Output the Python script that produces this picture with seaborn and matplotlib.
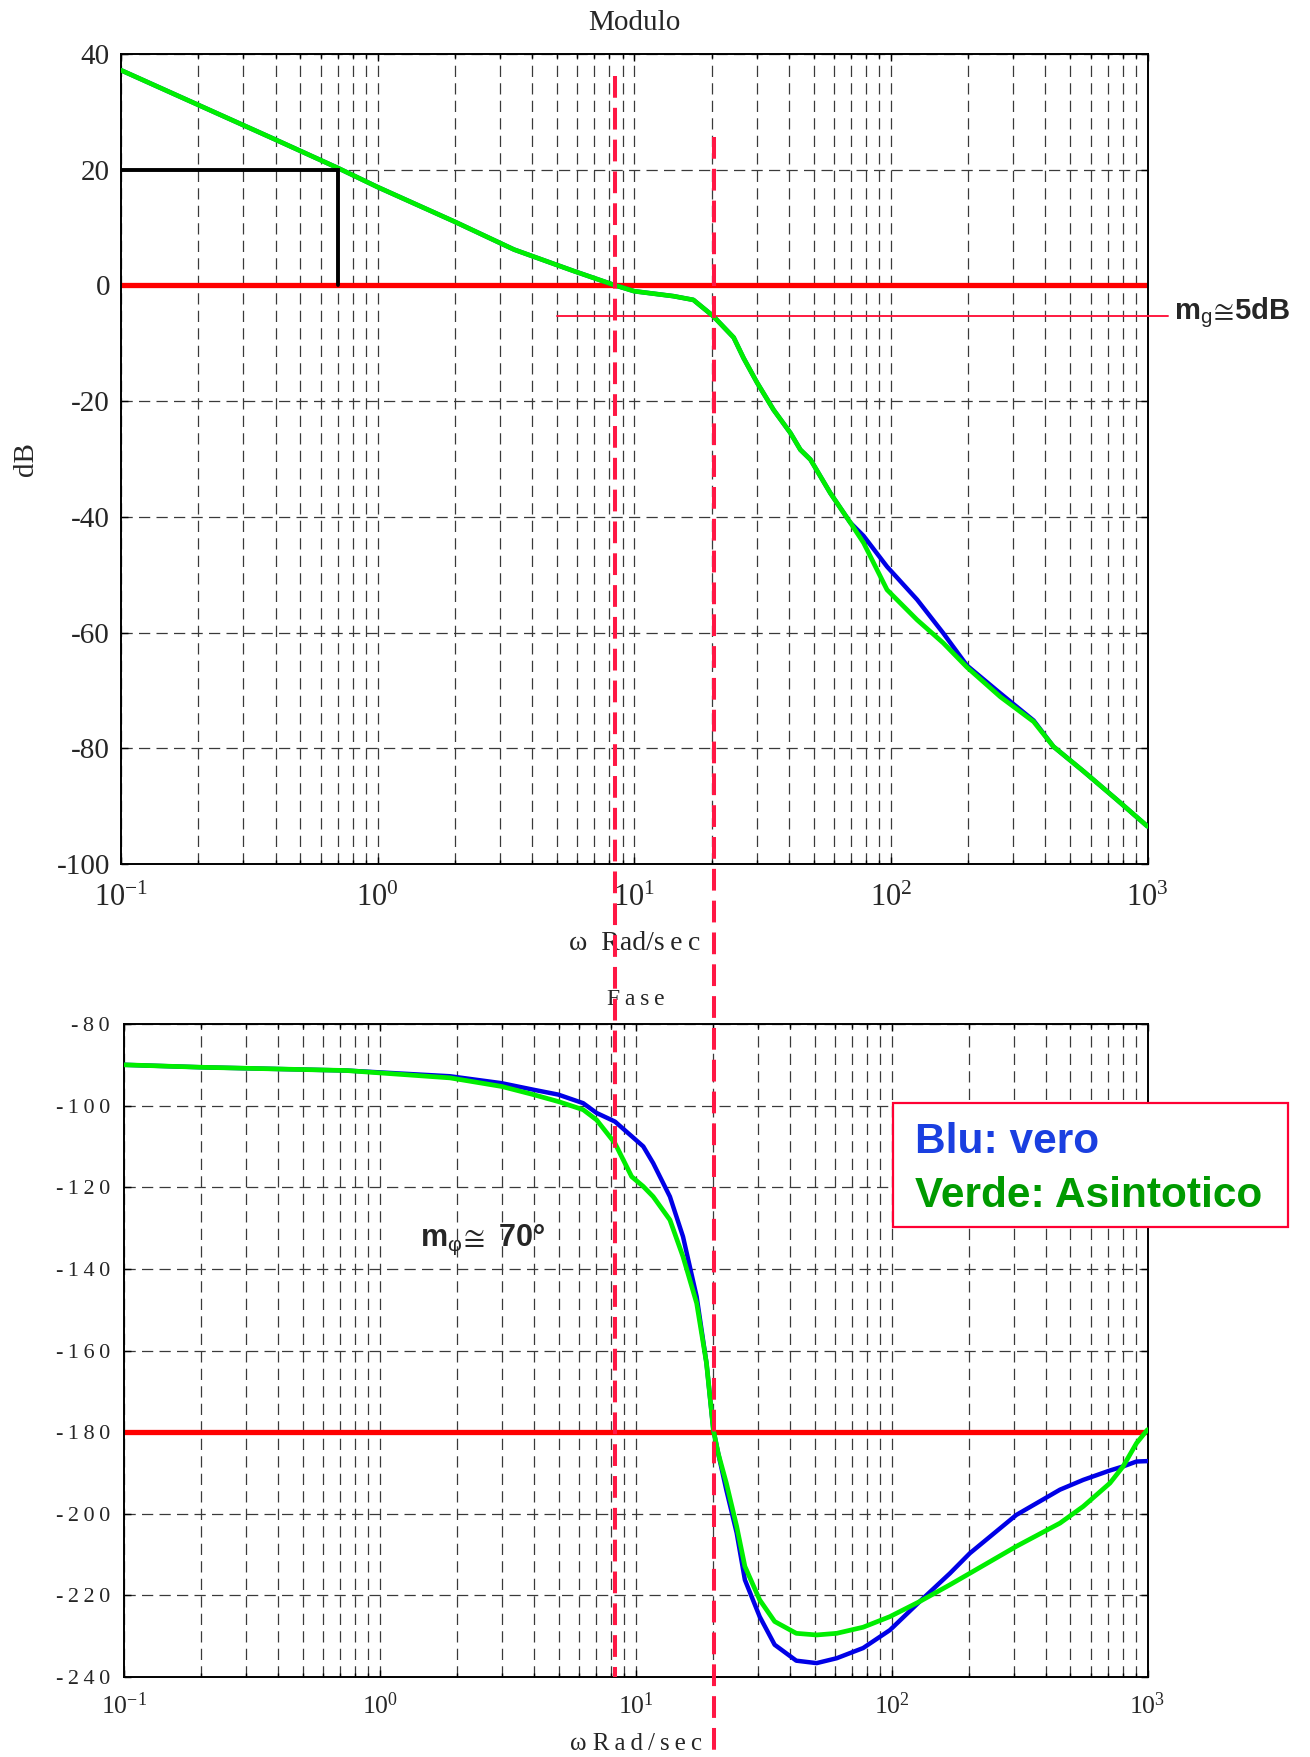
import numpy as np
import matplotlib
matplotlib.use("Agg")
import matplotlib.pyplot as plt
import matplotlib.transforms as mtransforms
from matplotlib.lines import Line2D
from matplotlib.patches import Rectangle
from matplotlib.ticker import FixedLocator, FuncFormatter, LogLocator, NullFormatter
import seaborn as sns

# ---------------- dati: modulo (dB) ----------------
w_mod = [0.1, 0.2, 0.4, 0.7, 1, 2, 3.4, 5.8, 8.45, 10, 14.2, 17, 20.3, 24.4,
         26.7, 30.1, 34.9, 40.6, 44.4, 48.6, 58.1, 69.5, 78.3, 96.6, 126.5,
         160, 198, 267, 360, 430, 564, 760, 1000]
mod_asint = [37.2, 31.2, 25.2, 20.3, 17.0, 11.0, 6.2, 2.5, 0.0, -1.0, -1.85,
             -2.5, -5.3, -9.0, -12.6, -16.8, -21.5, -25.5, -28.4, -30.1, -35.9,
             -41.0, -44.5, -52.6, -57.8, -61.8, -66.0, -71.1, -75.4, -79.7,
             -84.0, -88.9, -93.5]
mod_vero = [37.2, 31.2, 25.2, 20.3, 17.0, 11.0, 6.2, 2.5, 0.0, -1.0, -1.85,
            -2.5, -5.3, -9.0, -12.6, -16.8, -21.5, -25.5, -28.4, -30.1, -35.9,
            -41.0, -43.3, -48.6, -54.3, -60.1, -65.7, -70.5, -75.2, -79.7,
            -84.0, -88.9, -93.5]

# ---------------- dati: fase (gradi) ----------------
w_fase = [0.1, 0.2, 0.74, 1.88, 2.99, 3.98, 4.98, 6.23, 7.03, 8.29, 9.64,
          10.7, 11.7, 13.6, 15.3, 17.3, 18.9, 20.1, 21.0, 22.6, 24.8, 26.7,
          30.5, 34.9, 42.4, 50.9, 61.0, 77.4, 98.5, 128.8, 169, 202, 307, 455,
          561, 713, 803, 906, 1000]
fase_vero = [-90, -90.6, -91.4, -92.8, -94.5, -96.1, -97.3, -99.4, -101.8,
             -103.9, -107.5, -110.0, -114.1, -122.3, -132.1, -146.8, -163.1,
             -179.4, -185.2, -194.2, -204.7, -216.2, -225.2, -232.1, -236.0,
             -236.6, -235.4, -232.9, -228.5, -221.5, -214.6, -209.7, -200.3,
             -194.1, -191.7, -189.4, -188.4, -187.2, -187.1]
fase_asint = [-90, -90.6, -91.4, -93.2, -95.3, -97.3, -99.0, -101.0, -103.5,
              -109.2, -117.4, -119.8, -122.3, -128.0, -137.0, -148.4, -163.1,
              -179.4, -185.2, -192.5, -203.1, -212.9, -221.1, -226.4, -229.3,
              -229.7, -229.3, -227.8, -225.2, -221.5, -217.4, -214.6, -208.0,
              -202.3, -198.2, -192.5, -188.4, -182.7, -179.4]

# ---------------- riferimenti ----------------
w_taglio = 8.45        # attraversamento 0 dB
w_pi = 20.5            # attraversamento -180 gradi
mod_w_pi = -5.3        # modulo in w_pi (margine di guadagno)
w_mg_start = 5.0
w_k = 0.7              # costruzione grafica del guadagno
mod_k = 20

mag_ticks = [40, 20, 0, -20, -40, -60, -80, -100]
phase_ticks = [-80, -100, -120, -140, -160, -180, -200, -220, -240]
decades = [0.1, 1, 10, 100, 1000]

# ---------------- stile ----------------
sns.set_theme(style="white")
plt.rcParams["font.family"] = ["Liberation Serif", "DejaVu Serif"]
plt.rcParams["mathtext.fontset"] = "custom"
plt.rcParams["mathtext.rm"] = "Liberation Serif"
plt.rcParams["mathtext.sf"] = "Liberation Sans"
plt.rcParams["mathtext.fallback"] = "stixsans"
plt.rcParams["axes.unicode_minus"] = False

W, H = 1310, 1757
fig = plt.figure(figsize=(W / 100, H / 100), dpi=100)
ax1 = fig.add_axes([121 / W, 1 - 864 / H, 1026.5 / W, 810 / H])
ax2 = fig.add_axes([124 / W, 1 - 1677 / H, 1023.5 / W, 653 / H])

GRID = dict(color="#3a3a3a", lw=0.9, linestyle=(0, (9, 5)))
RED_DASH = "#ff1744"
SANS = ["Liberation Sans", "DejaVu Sans"]


def decade_label(v, pos):
    e = int(round(np.log10(v)))
    return r"$\mathregular{10^{%d}}$" % e


def spaced(v, pos):
    return "\u2009".join(str(int(v)))


def base_axis(ax, yticks, ylim):
    ax.set_xscale("log")
    ax.set_xlim(0.1, 1000)
    ax.set_ylim(*ylim)
    ax.xaxis.set_major_locator(FixedLocator(decades))
    ax.xaxis.set_minor_locator(LogLocator(base=10, subs=np.arange(2, 10), numticks=30))
    ax.xaxis.set_minor_formatter(NullFormatter())
    ax.xaxis.set_major_formatter(FuncFormatter(decade_label))
    ax.yaxis.set_major_locator(FixedLocator(yticks))
    ax.set_axisbelow(True)
    ax.grid(True, which="both", axis="x", **GRID)
    ax.grid(True, which="major", axis="y", **GRID)
    for s in ax.spines.values():
        s.set_color("black")
        s.set_linewidth(1.4)
        s.set_visible(True)
    ax.tick_params(which="both", direction="in", top=True, right=True,
                   bottom=True, left=True, color="black", length=5, width=1)
    ax.tick_params(which="minor", length=3)
    ax.set_facecolor("white")


# ---------------- modulo ----------------
base_axis(ax1, mag_ticks, (-100, 40))
ax1.yaxis.set_major_formatter(FuncFormatter(lambda v, p: "%d" % v))
ax1.tick_params(axis="y", labelsize=21, pad=8)
ax1.tick_params(axis="x", labelsize=22, pad=14)

sns.lineplot(x=w_mod, y=mod_vero, ax=ax1, color="#0000e6", lw=3.2,
             estimator=None, sort=False, zorder=3)
sns.lineplot(x=w_mod, y=mod_asint, ax=ax1, color="#00ee00", lw=3.4,
             estimator=None, sort=False, zorder=4)

ax1.axhline(0, color="#ff0000", lw=3.8, zorder=2.5)
x_end = 10 ** (np.log10(1000) + 0.02 * 4)
ax1.plot([w_mg_start, x_end], [mod_w_pi, mod_w_pi], color="#ff1a40", lw=1.4,
         clip_on=False, zorder=2.6)
ax1.plot([0.1, w_k, w_k], [mod_k, mod_k, 0], color="black", lw=2.8,
         solid_joinstyle="miter", zorder=5)

ax1.text(1.026, (mod_w_pi + 100) / 140 + 0.0045,
         r"m$_{\mathsf{g}}\!\cong\!$5dB",
         transform=ax1.transAxes, fontsize=21, fontweight="bold",
         family=SANS, va="center", ha="left")

ax1.set_title("Modulo", fontsize=21, pad=17)
ax1.set_xlabel("ω  Rad/s\u2009e\u2009c", fontsize=20)
ax1.xaxis.set_label_coords(0.5, -0.083)
ax1.set_ylabel("dB", fontsize=21)
ax1.yaxis.set_label_coords(-0.08, 0.5)

# ---------------- fase ----------------
base_axis(ax2, phase_ticks, (-240, -80))
ax2.yaxis.set_major_formatter(FuncFormatter(spaced))
ax2.tick_params(axis="y", labelsize=16, pad=10)
ax2.tick_params(axis="x", labelsize=18.5, pad=11)

sns.lineplot(x=w_fase, y=fase_vero, ax=ax2, color="#0000e6", lw=3.2,
             estimator=None, sort=False, zorder=3)
sns.lineplot(x=w_fase, y=fase_asint, ax=ax2, color="#00ee00", lw=3.4,
             estimator=None, sort=False, zorder=4)
ax2.axhline(-180, color="#ff0000", lw=3.8, zorder=2.5)

ax2.text(1.44, -132.9, r"m$_{\mathsf{φ}}\!\cong$ 70°", fontsize=22,
         fontweight="bold", family=SANS, va="center", ha="left")

ax2.set_title("F\u2009a\u2009s\u2009e", fontsize=17, pad=14)
ax2.set_xlabel("ω R\u2009a\u2009d\u2009/\u2009s\u2009e\u2009c", fontsize=18)
ax2.xaxis.set_label_coords(0.5, -0.086)

# riquadro con la legenda dei colori
box = Rectangle((0.751, 0.689), 0.386, 0.19, transform=ax2.transAxes,
                facecolor="white", edgecolor="#ff0033", lw=1.6,
                clip_on=False, zorder=10)
ax2.add_patch(box)
ax2.text(0.773, 0.802, "Blu: vero", transform=ax2.transAxes, color="#1a3fe0",
         fontsize=30.5, fontweight="bold", family=SANS,
         va="baseline", ha="left", zorder=11, clip_on=False)
ax2.text(0.773, 0.720, "Verde: Asintotico", transform=ax2.transAxes,
         color="#009a00", fontsize=30.5, fontweight="bold", family=SANS,
         va="baseline", ha="left", zorder=11, clip_on=False)

# linee verticali tratteggiate che attraversano entrambi i grafici
trans = mtransforms.blended_transform_factory(ax1.transData, fig.transFigure)
fig.add_artist(Line2D([w_taglio, w_taglio], [1 - 76 / H, 1 - 1677 / H],
                      transform=trans, color=RED_DASH, lw=2.9,
                      linestyle=(0, (5.4, 2.5)), zorder=20))
fig.add_artist(Line2D([w_pi, w_pi], [1 - 137 / H, 0.0],
                      transform=trans, color=RED_DASH, lw=2.9,
                      linestyle=(0, (5.4, 2.5)), zorder=20))

fig.savefig("out.png", dpi=100, facecolor="white")
